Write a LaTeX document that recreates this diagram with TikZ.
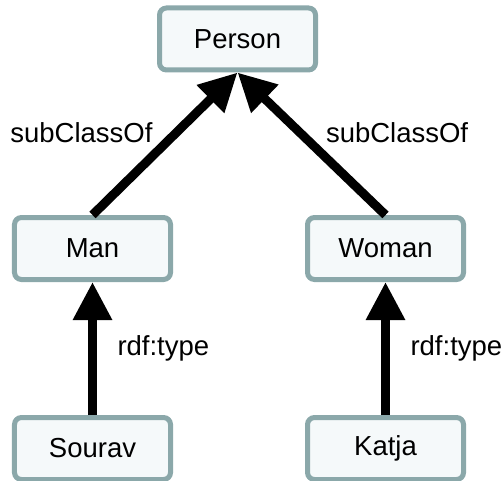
\documentclass[tikz,border=0pt]{standalone}
\usepackage{fontspec}
\setmainfont{Liberation Sans}
\usepackage{tikz}
\usetikzlibrary{arrows.meta, positioning}
\definecolor{boxline}{HTML}{8BA8AA}
\definecolor{boxfill}{HTML}{F5F9FA}
\tikzset{
  concept/.style={
    rectangle, rounded corners=7bp,
    minimum width=156bp, minimum height=62bp,
    text centered, draw=boxline, line width=5bp,
    fill=boxfill, font=\fontsize{27.5bp}{33bp}\selectfont,
  },
  rel/.style={-{Triangle[length=38bp, width=37bp]}, line width=9bp, color=black},
  lbl/.style={font=\fontsize{27.5bp}{33bp}\selectfont, inner sep=0pt},
}
\begin{document}
\begin{tikzpicture}[x=1bp, y=-1bp]
  \useasboundingbox (0,0) rectangle (504,481);

  \node[concept] (person) at (237.5,39) {Person};
  \node[concept] (man) at (92.5,248.5) {Man};
  \node[concept, right=132bp of man] (woman) {Woman};
  \node[concept, below=133bp of man] (sourav) {Sourav};
  \node[concept, below=133bp of woman] (katja) {Katja};

  \draw[rel] (man.north) -- node[lbl, anchor=base east, xshift=-8bp, yshift=1bp]{subClassOf} (person.south);
  \draw[rel] (woman.north) -- node[lbl, anchor=base west, xshift=10bp, yshift=1bp]{subClassOf} (person.south);
  \draw[rel] (sourav.north) -- node[lbl, anchor=base west, xshift=20.5bp, yshift=-6.5bp]{rdf:type} (man.south);
  \draw[rel] (katja.north) -- node[lbl, anchor=base west, xshift=20.5bp, yshift=-6.5bp]{rdf:type} (woman.south);

\end{tikzpicture}
\end{document}
